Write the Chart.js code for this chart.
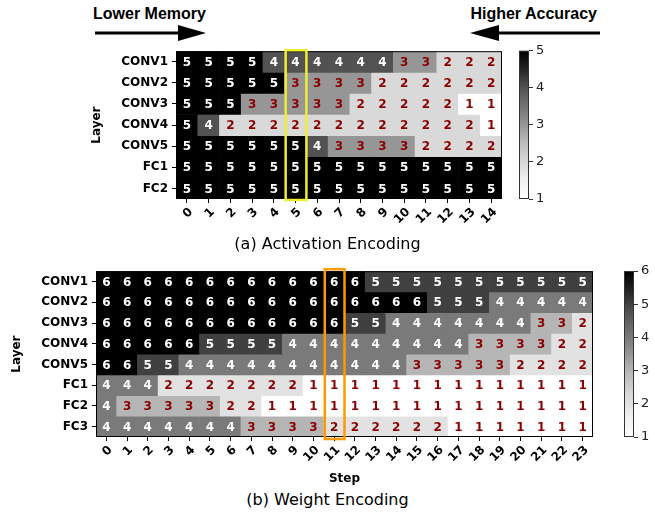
<!DOCTYPE html>
<html>
<head>
<meta charset="utf-8">
<script src="https://cdn.jsdelivr.net/npm/chart.js@4.4.1/dist/chart.umd.min.js"></script>
<style>
  body { margin: 0; background: #fff; width: 655px; height: 519px; position: relative; overflow: hidden; }
  canvas, svg, .cap { position: absolute; }
  .cap { font: 16px "DejaVu Sans"; color: #000; width: 655px; left: 0; text-align: center; line-height: 18px; }
</style>
</head>
<body>
<svg width="655" height="519" style="left:0px;top:0px">
  <text x="93" y="19" font-family="Liberation Sans" font-weight="bold" font-size="16">Lower Memory</text>
  <text x="597" y="19" text-anchor="end" font-family="Liberation Sans" font-weight="bold" font-size="16">Higher Accuracy</text>
  <line x1="95" y1="33" x2="182" y2="33" stroke="#000" stroke-width="3"/>
  <polygon points="178,25 206,33 178,41" fill="#000"/>
  <polygon points="470,33 499,25 499,41" fill="#000"/>
  <line x1="496" y1="33" x2="600" y2="33" stroke="#000" stroke-width="3"/>
</svg>

<canvas id="actChart" width="520" height="199" style="left:0px;top:40px"></canvas>
<canvas id="actBar" width="60" height="170" style="left:510px;top:40px"></canvas>
<div class="cap" style="top:235px">(a) Activation Encoding</div>

<canvas id="wtChart" width="610" height="226" style="left:0px;top:260px"></canvas>
<canvas id="wtBar" width="41" height="190" style="left:614px;top:260px"></canvas>
<div class="cap" style="top:491px">(b) Weight Encoding</div>

<script>
    /* data */
    const actSteps = ['0','1','2','3','4','5','6','7','8','9','10','11','12','13','14'];
    const actLayers = ['CONV1','CONV2','CONV3','CONV4','CONV5','FC1','FC2'];
    const actBits = [
        [5,5,5,5,4,4,4,4,4,4,3,3,2,2,2],
        [5,5,5,5,5,3,3,3,3,2,2,2,2,2,2],
        [5,5,5,3,3,3,3,3,2,2,2,2,2,1,1],
        [5,4,2,2,2,2,2,2,2,2,2,2,2,2,1],
        [5,5,5,5,5,5,4,3,3,3,3,2,2,2,2],
        [5,5,5,5,5,5,5,5,5,5,5,5,5,5,5],
        [5,5,5,5,5,5,5,5,5,5,5,5,5,5,5],
    ];
    const actTicks = [1,2,3,4,5];

    const wtSteps = ['0','1','2','3','4','5','6','7','8','9','10','11',
                     '12','13','14','15','16','17','18','19','20','21','22','23'];
    const wtLayers = ['CONV1','CONV2','CONV3','CONV4','CONV5','FC1','FC2','FC3'];
    const wtBits = [
        [6,6,6,6,6,6,6,6,6,6,6,6,6,5,5,5,5,5,5,5,5,5,5,5],
        [6,6,6,6,6,6,6,6,6,6,6,6,6,6,6,6,5,5,5,4,4,4,4,4],
        [6,6,6,6,6,6,6,6,6,6,6,6,5,5,4,4,4,4,4,4,4,3,3,2],
        [6,6,6,6,6,5,5,5,5,4,4,4,4,4,4,4,4,4,3,3,3,3,2,2],
        [6,6,5,5,4,4,4,4,4,4,4,4,4,4,4,3,3,3,3,3,2,2,2,2],
        [4,4,4,2,2,2,2,2,2,2,1,1,1,1,1,1,1,1,1,1,1,1,1,1],
        [4,3,3,3,3,3,2,2,1,1,1,1,1,1,1,1,1,1,1,1,1,1,1,1],
        [4,4,4,4,4,4,4,3,3,3,3,2,2,2,2,2,2,1,1,1,1,1,1,1],
    ];
    const wtTicks = [1,2,3,4,5,6];

    /* matplotlib Greys */
    const greysStops = [1, 0.941, 0.851, 0.741, 0.588, 0.451, 0.322, 0.145, 0];
    function greys(t) {
        t = Math.max(0, Math.min(1, t));
        const p = t * 8, i = Math.min(7, Math.floor(p)), f = p - i;
        const g = Math.round(255 * (greysStops[i] + (greysStops[i + 1] - greysStops[i]) * f));
        return `rgb(${g},${g},${g})`;
    }

    const boldFont = (size) => ({ family: 'DejaVu Sans', size: size, weight: 'bold' });

    /* numbers in cells, frame, highlighted step */
    const cellPlugin = {
        id: 'cells',
        afterDatasetsDraw(chart, args, opts) {
            const ctx = chart.ctx;
            const a = chart.chartArea;
            ctx.save();
            ctx.font = 'bold 12px "DejaVu Sans"';
            ctx.textAlign = 'center';
            ctx.textBaseline = 'middle';
            chart.data.datasets.forEach((ds, di) => {
                chart.getDatasetMeta(di).data.forEach((el, i) => {
                    const v = ds.bits[i];
                    const p = el.getCenterPoint();
                    ctx.fillStyle = v >= 4 ? '#fff' : '#8b0000';
                    ctx.fillText(String(v), p.x, p.y + 1);
                });
            });
            ctx.strokeStyle = '#000';
            ctx.lineWidth = 1;
            ctx.strokeRect(a.left + 0.5, a.top + 0.5, a.width - 1, a.height - 1);
            if (opts.step != null) {
                const el = chart.getDatasetMeta(0).data[opts.step];
                ctx.strokeStyle = opts.color;
                ctx.lineWidth = 2.5;
                ctx.strokeRect(el.x - el.width / 2 + 1, a.top - opts.out,
                               el.width - 1, a.height + 2 * opts.out);
            }
            ctx.restore();
        }
    };

    function heatmap(id, steps, layers, bits, vmax, o) {
        new Chart(document.getElementById(id), {
            type: 'bar',
            data: {
                labels: steps,
                datasets: layers.map((name, r) => ({
                    label: name,
                    data: steps.map(() => [r, r + 1]),
                    bits: bits[r],
                    backgroundColor: bits[r].map(v => greys((v - 1) / (vmax - 1))),
                    borderWidth: 0,
                    grouped: false,
                    barPercentage: 1,
                    categoryPercentage: 1
                }))
            },
            options: {
                responsive: false,
                animation: false,
                layout: { padding: o.pad },
                plugins: {
                    legend: { display: false },
                    tooltip: { enabled: false },
                    cells: { step: o.step, color: o.color, out: o.out }
                },
                scales: {
                    x: {
                        offset: true,
                        grid: { offset: false, drawOnChartArea: false, tickLength: 4, tickColor: '#000' },
                        border: { display: false },
                        ticks: {
                            font: boldFont(12), color: '#000', autoSkip: false,
                            maxRotation: 45, minRotation: 45, padding: 2, labelOffset: 4
                        },
                        title: { display: !!o.xTitle, text: o.xTitle, font: boldFont(12), color: '#000', padding: 0 },
                        afterFit: s => { s.height = o.xHeight; }
                    },
                    y: {
                        type: 'linear', reverse: true, min: 0, max: layers.length,
                        afterBuildTicks: s => { s.ticks = layers.map((_, i) => ({ value: i + 0.5 })); },
                        ticks: {
                            callback: v => layers[Math.floor(v)],
                            font: boldFont(12), color: '#000', padding: 4, autoSkip: false
                        },
                        grid: { drawOnChartArea: false, tickLength: 4, tickColor: '#000' },
                        border: { display: false },
                        title: { display: true, text: 'Layer', font: boldFont(12), color: '#000', padding: 0 },
                        afterFit: s => { s.width = o.yWidth; }
                    }
                }
            },
            plugins: [cellPlugin]
        });
    }

    const framePlugin = {
        id: 'frame',
        afterDatasetsDraw(chart) {
            const a = chart.chartArea, ctx = chart.ctx;
            ctx.save();
            ctx.strokeStyle = '#333';
            ctx.lineWidth = 1;
            ctx.strokeRect(a.left + 0.5, a.top + 0.5, a.width - 1, a.height - 1);
            ctx.restore();
        }
    };

    function colorbar(id, tickVals, o) {
        const vmin = tickVals[0], vmax = tickVals[tickVals.length - 1];
        new Chart(document.getElementById(id), {
            type: 'bar',
            data: {
                labels: [''],
                datasets: [{
                    data: [[vmin, vmax]],
                    borderWidth: 0,
                    barPercentage: 1,
                    categoryPercentage: 1,
                    backgroundColor: c => {
                        const a = c.chart.chartArea;
                        if (!a) return '#888';
                        const g = c.chart.ctx.createLinearGradient(0, a.bottom, 0, a.top);
                        for (let k = 0; k <= 16; k++) g.addColorStop(k / 16, greys(k / 16));
                        return g;
                    }
                }]
            },
            options: {
                responsive: false,
                animation: false,
                layout: { padding: o.pad },
                plugins: { legend: { display: false }, tooltip: { enabled: false } },
                scales: {
                    x: { display: false },
                    y: {
                        position: 'right', min: vmin, max: vmax,
                        afterBuildTicks: s => { s.ticks = tickVals.map(v => ({ value: v })); },
                        ticks: { font: { family: 'DejaVu Sans', size: 13 }, color: '#222', padding: 3 },
                        grid: { drawOnChartArea: false, tickLength: 4, tickColor: '#333' },
                        border: { display: false },
                        afterFit: s => { s.width = o.w; }
                    }
                }
            },
            plugins: [framePlugin]
        });
    }

    heatmap('actChart', actSteps, actLayers, actBits, 5, {
        pad: { left: 90, top: 9, right: 18, bottom: 0 },
        yWidth: 86, xHeight: 40, step: 5, color: '#eeee33', out: 1
    });
    colorbar('actBar', actTicks, { pad: { left: 9, top: 9, bottom: 11, right: 0 }, w: 41 });

    heatmap('wtChart', wtSteps, wtLayers, wtBits, 6, {
        pad: { left: 10, top: 11, right: 17, bottom: 0 },
        yWidth: 86, xHeight: 49, xTitle: 'Step', step: 11, color: '#ff9900', out: 2
    });
    colorbar('wtBar', wtTicks, { pad: { left: 10, top: 11, bottom: 13, right: 0 }, w: 21 });
</script>
</body>
</html>
